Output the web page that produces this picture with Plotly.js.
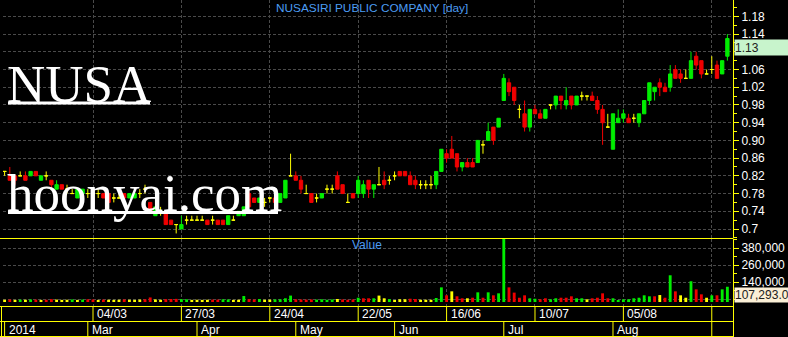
<!DOCTYPE html>
<html><head><meta charset="utf-8">
<script src="https://cdn.plot.ly/plotly-3.0.1.min.js"></script>
<style>html,body{margin:0;padding:0;background:#000;overflow:hidden}#chart{width:788px;height:337px}</style>
</head><body><div id="chart"></div>
<script>
// ---------- DATA ----------
const openP = [.83,.82,.82,.82,.82,.82,.83,.81,.82,.81, .79,.80,.79,.78,.77,.78,.78,.78,.78,.78,
 .78,.77,.77,.78,.77,.77,.78,.79,.76,.73, .74,.74,.72,.71,.70,.72,.72,.72,.72,.72,
 .72,.72,.72,.71,.72,.73,.73,.78,.77,.76, .76,.77,.77,.76,.77,.82,.82,.81,.78,.78,
 .77,.77,.79,.79,.82,.80,.76,.78,.78,.78, .81,.79,.80,.81,.81,.82,.83,.83,.82,.81,
 .80,.80,.80,.80,.83,.87,.88,.87,.84,.85, .85,.85,.89,.90,.93,.93,.99,1.03,1.02,.97,
 .96,.93,.97,.96,.95,.98,.98,1.00,.98,1.00, .98,1.00,1.00,1.00,.99,.97,.93,.88,.94,.95,
 .95,.95,.94,.96,.99,1.01,1.03,1.02,1.02,1.06, 1.05,1.04,1.04,1.09,1.08,1.05,1.06,1.07,1.05,1.09];
const highP = [.83,.84,.82,.83,.83,.83,.83,.82,.83,.81, .81,.80,.80,.79,.79,.79,.79,.79,.79,.78,
 .78,.78,.78,.78,.78,.78,.79,.80,.76,.75, .75,.74,.72,.71,.73,.73,.73,.73,.73,.72,
 .73,.72,.72,.73,.73,.74,.75,.79,.77,.77, .77,.77,.77,.78,.81,.87,.83,.82,.80,.78,
 .78,.78,.80,.80,.83,.80,.78,.78,.82,.81, .81,.80,.84,.83,.82,.83,.83,.83,.83,.82,
 .81,.81,.82,.83,.88,.88,.91,.87,.85,.86, .86,.90,.90,.94,.93,.95,1.05,1.04,1.02,.98,
 .99,.97,.98,.97,.97,.98,1.00,1.00,1.02,1.00, 1.00,1.01,1.00,1.01,1.00,.98,.96,.96,.97,.97,
 .96,.96,.96,.99,1.03,1.02,1.04,1.03,1.07,1.07, 1.06,1.06,1.10,1.10,1.08,1.06,1.09,1.08,1.08,1.14];
const lowP = [.82,.81,.80,.82,.81,.82,.82,.81,.81,.79, .79,.79,.78,.78,.77,.78,.77,.77,.77,.77,
 .76,.76,.77,.77,.77,.77,.77,.78,.74,.73, .73,.71,.71,.69,.70,.71,.72,.72,.72,.71,
 .71,.71,.71,.71,.72,.73,.73,.75,.76,.76, .75,.76,.76,.76,.77,.82,.81,.78,.78,.76,
 .76,.77,.78,.78,.79,.78,.76,.77,.77,.77, .77,.77,.80,.79,.80,.81,.82,.82,.80,.79,
 .79,.79,.79,.79,.83,.85,.86,.83,.83,.84, .84,.85,.87,.90,.89,.93,.99,1.00,.98,.95,
 .92,.92,.96,.95,.95,.97,.97,.97,.97,.97, .98,.99,.99,.99,.96,.89,.93,.88,.94,.94,
 .94,.94,.93,.96,.98,.99,1.00,1.01,1.01,1.04, 1.03,1.04,1.04,1.06,1.04,1.05,1.05,1.04,1.05,1.08];
const closeP = [.83,.81,.81,.82,.81,.83,.82,.82,.82,.80, .80,.79,.79,.78,.79,.79,.78,.78,.78,.77,
 .76,.77,.77,.77,.78,.78,.78,.79,.74,.75, .74,.71,.71,.71,.71,.72,.72,.72,.72,.71,
 .72,.71,.71,.73,.72,.74,.75,.75,.76,.77, .76,.77,.76,.78,.81,.82,.81,.79,.78,.76,
 .77,.78,.79,.79,.79,.78,.76,.77,.81,.80, .79,.80,.80,.80,.81,.82,.82,.82,.80,.80,
 .80,.80,.80,.83,.88,.86,.86,.84,.85,.84, .84,.90,.89,.92,.90,.95,1.04,1.01,.99,.97,
 .93,.97,.96,.95,.97,.98,1.00,.99,.99,.98, 1.00,1.00,1.00,.99,.97,.94,.93,.96,.95,.96,
 .94,.95,.96,.99,1.03,1.02,1.02,1.01,1.05,1.04, 1.04,1.04,1.08,1.07,1.05,1.05,1.06,1.04,1.08,1.13];
const volume = [16000,18000,15000,17000,16000,18000,17000,15000,16000,20000, 17000,15000,16000,18000,15000,17000,19000,18000,15000,17000,
 16000,15000,16000,18000,16000,15000,17000,19000,32000,18000, 16000,20000,21000,22000,20000,19000,15000,16000,15000,16000,
 17000,17000,19000,18000,15000,16000,42000,20000,17000,21000, 16000,17000,18000,19000,26000,45000,19000,18000,17000,18000,
 17000,19000,16000,18000,21000,18000,16000,18000,30000,26000, 26000,26000,45000,26000,20000,14000,19000,19000,23000,21000,
 16000,16000,16000,28000,103000,47000,75000,40000,26000,26000, 30000,68000,30000,68000,47000,61000,464000,103000,66000,30000,
 47000,26000,23000,19000,26000,19000,26000,30000,30000,40000, 26000,26000,19000,26000,30000,61000,26000,26000,14000,19000,
 19000,26000,30000,47000,40000,40000,49000,30000,188000,75000, 47000,30000,146000,89000,54000,30000,47000,47000,89000,107293];
// volume colour as drawn: u = up, d = down, n = unchanged
const volDir = ['n','d','n','u','n','u','d','n','d','d', 'n','n','n','u','n','u','d','d','n','d',
 'n','n','n','d','n','n','n','d','d','n', 'n','d','d','d','u','u','n','n','n','n',
 'd','d','u','u','n','n','u','d','d','u', 'n','n','u','u','u','u','d','d','d','d',
 'u','u','u','u','n','d','d','d','u','d', 'd','u','n','n','u','n','n','n','d','d',
 'n','n','n','u','u','d','n','d','d','n', 'd','u','d','u','d','u','u','d','d','d',
 'd','u','u','d','d','u','u','d','d','d', 'u','u','n','d','d','d','d','u','u','u',
 'u','u','u','u','u','d','n','d','u','d', 'n','n','u','d','d','n','u','d','u','u'];
const gridIdx = [17,34,51,68,85,102,119,136];
const dateLabels = ['04/03','27/03','24/04','22/05','16/06','10/07','05/08',''];
const monthIdx = [0,16,37,56,75,96,117];
const monthLabels = ['2014','Mar','Apr','May','Jun','Jul','Aug'];
const priceTicks = [0.70,0.74,0.78,0.82,0.86,0.90,0.94,0.98,1.02,1.06,1.10,1.14,1.18];
// 1.10 sits under the last-price box in the reference
const priceTickText = ['0.7','0.74','0.78','0.82','0.86','0.90','0.94','0.98','1.02','1.06','','1.14','1.18'];
const volTicks = [20000,140000,260000,380000];
const volTickText = ['','140,000','260,000','380,000'];
const titleText = 'NUSASIRI PUBLIC COMPANY [day]';
const symbolText = 'NUSA';
const siteText = 'hoonyai.com';

// ---------- STYLE / LAYOUT ----------
const W = 788, H = 337, ML = 3, MR = 55, MT = 0, MB = 31;
const PW = W - ML - MR, PH = H - MT - MB;
const px = p => (p - ML) / PW;
const py = p => (PH + MT - p) / PH;
const UP = '#00ee00', DN = '#f00000', FL = '#ffff00', YL = '#ffff00';
const GRID = '#4a4a4a', BLUE = '#4c9cf2';
const colorOf = {u: UP, d: DN, n: FL};

const idx = closeP.map((_, i) => i);
const groups = {u: [], d: [], n: []};
idx.forEach(i => {
  const k = closeP[i] > openP[i] ? 'u' : (closeP[i] < openP[i] ? 'd' : 'n');
  groups[k].push(i);
});
const traces = ['n','d','u'].map(k => {
  const g = groups[k], c = colorOf[k];
  return {
    type: 'candlestick', xaxis: 'x', yaxis: 'y',
    x: g, open: g.map(i => openP[i]), high: g.map(i => highP[i]),
    low: g.map(i => lowP[i]), close: g.map(i => closeP[i]),
    increasing: {line: {color: c, width: 1}, fillcolor: c},
    decreasing: {line: {color: c, width: 1}, fillcolor: c},
    whiskerwidth: 0, hoverinfo: 'x+y', showlegend: false
  };
});
traces.push({
  type: 'bar', xaxis: 'x', yaxis: 'y2', x: idx, y: volume,
  marker: {color: volDir.map(d => colorOf[d]), line: {width: 0}},
  width: 0.55, cliponaxis: false, showlegend: false, hoverinfo: 'x+y'
});

const shapes = [];
const hline = (y, x0, x1) => shapes.push({type:'line', xref:'paper', yref:'paper', x0:px(x0), x1:px(x1), y0:py(y), y1:py(y), line:{color:YL, width:1}});
const vline = (x, y0, y1) => shapes.push({type:'line', xref:'paper', yref:'paper', x0:px(x), x1:px(x), y0:py(y0), y1:py(y1), line:{color:YL, width:1}});
hline(238.5, 0, 733.5); hline(306.5, 0, 733.5); hline(321.5, 0, 733.5); hline(336.5, 0, 733.5);
vline(733.5, 306, 337); vline(1.5, 306, 337);
gridIdx.forEach(g => shapes.push({type:'line', xref:'x', yref:'paper', x0:g, x1:g, y0:py(306.5), y1:py(321.5), line:{color:YL, width:1}}));
monthIdx.forEach(m => shapes.push({type:'line', xref:'x', yref:'paper', x0:m, x1:m, y0:py(321.5), y1:py(336.5), line:{color:YL, width:1}}));
shapes.push({type:'line', xref:'x', yref:'paper', x0:gridIdx[gridIdx.length-1], x1:gridIdx[gridIdx.length-1], y0:py(321.5), y1:py(336.5), line:{color:YL, width:1}});
// watermark underlines
shapes.push({type:'line', xref:'paper', yref:'paper', x0:px(8), x1:px(150), y0:py(103), y1:py(103), line:{color:'#ffffff', width:3}});
shapes.push({type:'line', xref:'paper', yref:'paper', x0:px(8), x1:px(278), y0:py(212.5), y1:py(212.5), line:{color:'#ffffff', width:3}});

const SANS = 'Liberation Sans, Arial, sans-serif';
const SERIF = 'Liberation Serif, Times New Roman, serif';
const annotations = [];
annotations.push({text: titleText, xref:'paper', yref:'paper', x:px(372), y:py(8), xanchor:'center', yanchor:'middle', showarrow:false, font:{family:SANS, size:11.8, color:BLUE}});
annotations.push({text: 'Value', xref:'paper', yref:'paper', x:px(367), y:py(245), xanchor:'center', yanchor:'middle', showarrow:false, font:{family:SANS, size:12, color:BLUE}});
annotations.push({text: symbolText, xref:'paper', yref:'paper', x:px(5), y:py(84), xanchor:'left', yanchor:'middle', showarrow:false, font:{family:SERIF, size:53, color:'#ffffff'}});
annotations.push({text: siteText, xref:'paper', yref:'paper', x:px(5), y:py(193), xanchor:'left', yanchor:'middle', showarrow:false, font:{family:SERIF, size:53, color:'#ffffff'}});
gridIdx.forEach((g, i) => { if (dateLabels[i]) annotations.push({text: dateLabels[i], xref:'x', yref:'paper', x:g, xshift:2, y:py(314), xanchor:'left', yanchor:'middle', showarrow:false, font:{family:SANS, size:12, color:'#ffffff'}}); });
monthIdx.forEach((m, i) => annotations.push({text: monthLabels[i], xref:'x', yref:'paper', x:m, xshift:2, y:py(329.5), xanchor:'left', yanchor:'middle', showarrow:false, font:{family:SANS, size:12, color:'#ffffff'}}));
const lastC = closeP[closeP.length-1], lastV = volume[volume.length-1];
annotations.push({text: lastC.toFixed(2), xref:'paper', yref:'y', x:px(734), y:lastC, xanchor:'left', yanchor:'top', showarrow:false, width:54, height:15, align:'left', borderpad:0, bgcolor:'#c8f4cc', font:{family:SANS, size:12, color:'#202020'}});
annotations.push({text: lastV.toLocaleString('en-US') + '.0', xref:'paper', yref:'y2', x:px(734), y:lastV, xanchor:'left', yanchor:'top', showarrow:false, width:56, height:14, align:'left', borderpad:0, bgcolor:'#fbefd6', font:{family:SANS, size:12, color:'#202020'}});

const axisFont = {family:SANS, size:12, color:'#ffffff'};
const layout = {
  width: W, height: H, margin: {l:ML, r:MR, t:MT, b:MB, pad:0},
  paper_bgcolor:'#000', plot_bgcolor:'#000', showlegend:false, dragmode:false,
  boxgap: 0.2, boxgroupgap: 0.2,
  xaxis: {range:[-0.308, 140.08], tickmode:'array', tickvals:gridIdx, showticklabels:false, ticks:'',
    showgrid:true, gridcolor:GRID, griddash:'3px,2px', gridwidth:1, zeroline:false, showline:false,
    rangeslider:{visible:false}, fixedrange:true},
  yaxis: {domain:[py(238), 1], range:[0.6797, 1.2169], side:'right', tickmode:'array', tickvals:priceTicks, ticktext:priceTickText,
    showline:true, linecolor:YL, linewidth:1, ticks:'outside', ticklen:5, tickcolor:YL, tickwidth:1,
    tickfont:axisFont, showgrid:true, gridcolor:GRID, griddash:'3px,2px', zeroline:false, fixedrange:true,
    minor:{tick0:0.70, dtick:0.02, ticks:'outside', ticklen:3, tickcolor:YL, showgrid:false}},
  yaxis2: {domain:[0, py(239)], range:[-28150, 443300], side:'right', tickmode:'array', tickvals:volTicks, ticktext:volTickText,
    showline:true, linecolor:YL, linewidth:1, ticks:'outside', ticklen:5, tickcolor:YL, tickwidth:1,
    tickfont:axisFont, showgrid:true, gridcolor:GRID, griddash:'3px,2px', zeroline:false, fixedrange:true,
    minor:{tick0:20000, dtick:60000, ticks:'outside', ticklen:3, tickcolor:YL, showgrid:false}},
  shapes: shapes, annotations: annotations
};
Plotly.newPlot('chart', traces, layout, {displayModeBar:false, staticPlot:true});
</script>
</body></html>
